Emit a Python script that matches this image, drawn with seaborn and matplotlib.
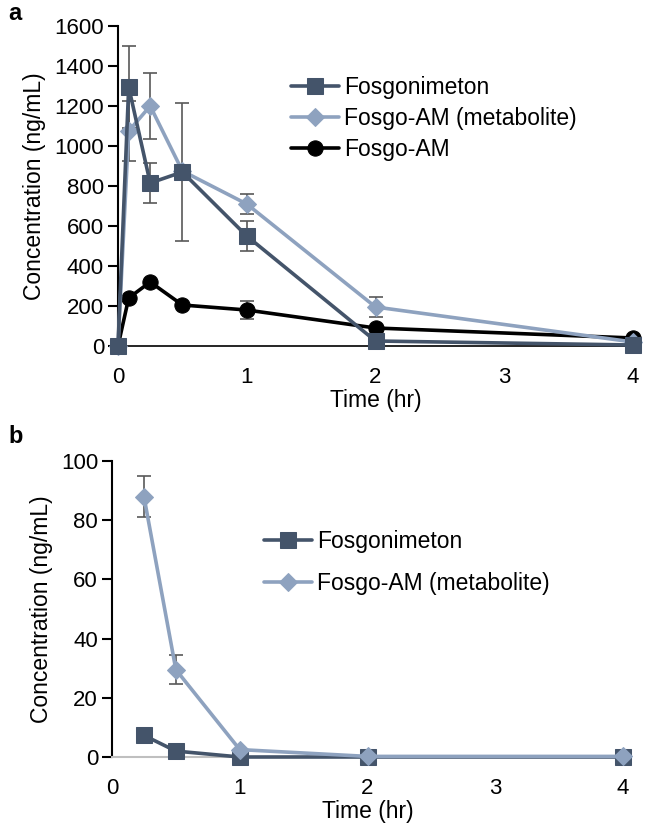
import numpy as np
import pandas as pd
import matplotlib
matplotlib.use("Agg")
import matplotlib.pyplot as plt
import seaborn as sns

sns.set_style("white")
plt.rcParams['font.family'] = ['Liberation Sans', 'DejaVu Sans']
plt.rcParams['text.color'] = 'black'
plt.rcParams['axes.labelcolor'] = 'black'
plt.rcParams['xtick.color'] = 'black'
plt.rcParams['ytick.color'] = 'black'

# ---- data panel a ----
time_a = [0, 0.083, 0.25, 0.5, 1, 2, 4]
fosgo_a = [0, 1295, 815, 870, 550, 25, 5]
fosgo_a_err = [0, 205, 100, 345, 75, 0, 0]
metab_a = [0, 1075, 1200, 875, 710, 195, 20]
metab_a_err = [0, 150, 165, 0, 50, 50, 0]
am_a = [0, 240, 320, 205, 180, 90, 40]
am_a_err = [0, 0, 0, 0, 45, 0, 0]

# ---- data panel b ----
time_b = [0.25, 0.5, 1, 2, 4]
fosgo_b = [7.3, 2.0, 0.0, 0.0, 0.0]
fosgo_b_err = [0, 0, 0, 0, 0]
metab_b = [88, 29.5, 2.5, 0.2, 0.2]
metab_b_err = [6.8, 5.0, 0, 0, 0]

labels = ["Fosgonimeton", "Fosgo-AM (metabolite)", "Fosgo-AM"]
colors = {"Fosgonimeton": "#44546A", "Fosgo-AM (metabolite)": "#8EA2BF", "Fosgo-AM": "#000000"}
markers = {"Fosgonimeton": "s", "Fosgo-AM (metabolite)": "D", "Fosgo-AM": "o"}
msizes = {"Fosgonimeton": 11, "Fosgo-AM (metabolite)": 9.5, "Fosgo-AM": 11}

W, H = 645, 824
fig = plt.figure(figsize=(W / 100, H / 100), dpi=100)

def px_axes(l, r, t, b):
    return fig.add_axes([l / W, 1 - b / H, (r - l) / W, (b - t) / H])

ax_a = px_axes(118, 633, 26, 346)
ax_b = px_axes(112, 623, 461, 757)

def draw(ax, time, series, errs, names, order):
    rows = []
    for name, vals in zip(names, series):
        for t, v in zip(time, vals):
            rows.append({"Time": t, "Conc": v, "Series": name})
    df = pd.DataFrame(rows)
    for name, vals, e in zip(names, series, errs):
        ax.errorbar(time, vals, yerr=e, fmt='none', ecolor='#595959',
                    elinewidth=1.2, capsize=5, capthick=1.2, zorder=2, clip_on=False)
    for name in order:
        sub = df[df.Series == name]
        sns.lineplot(data=sub, x="Time", y="Conc", ax=ax, color=colors[name],
                     marker=markers[name], markersize=msizes[name],
                     markeredgecolor=colors[name], linewidth=2.6,
                     label=name, clip_on=False, zorder=3, estimator=None)

draw(ax_a, time_a, [fosgo_a, metab_a, am_a], [fosgo_a_err, metab_a_err, am_a_err],
     labels, ["Fosgo-AM", "Fosgo-AM (metabolite)", "Fosgonimeton"])
draw(ax_b, time_b, [fosgo_b, metab_b], [fosgo_b_err, metab_b_err],
     labels[:2], ["Fosgonimeton", "Fosgo-AM (metabolite)"])

for ax, ylim, yticks in [(ax_a, (0, 1600), np.arange(0, 1601, 200)),
                         (ax_b, (0, 100), np.arange(0, 101, 20))]:
    ax.set_xlim(0, 4)
    ax.set_ylim(*ylim)
    ax.set_yticks(yticks)
    ax.set_xticks([0, 1, 2, 3, 4])
    ax.set_xticklabels(["0", "1", "2", "3", "4"])
    for s in ["top", "right"]:
        ax.spines[s].set_visible(False)
    ax.spines["left"].set_color("black")
    ax.spines["left"].set_linewidth(1.5)
    ax.tick_params(axis='y', which='both', left=True, length=7, width=1.5,
                   color='black', labelsize=16, pad=3, labelcolor='black')
    ax.tick_params(axis='x', length=0, labelsize=16, pad=15, labelcolor='black')
    ax.set_ylabel("Concentration (ng/mL)", fontsize=16.5, labelpad=6, color='black')
    ax.set_xlabel("Time (hr)", fontsize=16.5, labelpad=1, color='black')
    ax.grid(False)

ax_a.spines["bottom"].set_color("black")
ax_a.spines["bottom"].set_linewidth(1.2)
ax_b.spines["bottom"].set_color("#BFBFBF")
ax_b.spines["bottom"].set_linewidth(1.5)

# legends
h, l = ax_a.get_legend_handles_labels()
order = [l.index(n) for n in labels]
ax_a.legend([h[i] for i in order], [l[i] for i in order], loc='upper left',
            bbox_to_anchor=(291 / W, 1 - 76 / H), bbox_transform=fig.transFigure,
            frameon=False, fontsize=16.5, handlelength=2.1, handletextpad=0.2,
            labelspacing=0.35, borderpad=0, borderaxespad=0)
h, l = ax_b.get_legend_handles_labels()
order = [l.index(n) for n in labels[:2]]
ax_b.legend([h[i] for i in order], [l[i] for i in order], loc='upper left',
            bbox_to_anchor=(264 / W, 1 - 530 / H), bbox_transform=fig.transFigure,
            frameon=False, fontsize=16.5, handlelength=2.1, handletextpad=0.2,
            labelspacing=0.85, borderpad=0, borderaxespad=0)

fig.text(8 / W, 1 - 2 / H, "a", fontsize=17, fontweight='bold', va='top', ha='left')
fig.text(8 / W, 1 - 425 / H, "b", fontsize=17, fontweight='bold', va='top', ha='left')

fig.savefig("out.png", dpi=100)
